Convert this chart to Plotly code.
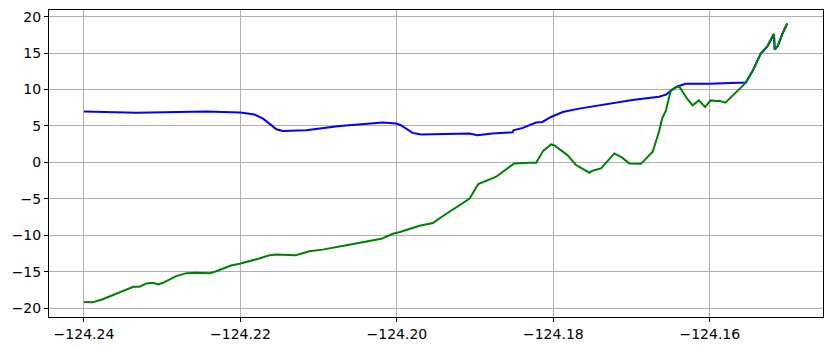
import plotly.graph_objects as go

blue_lon = [-124.2400, -124.2333, -124.2244, -124.2200, -124.2182, -124.2171, -124.2154,
            -124.2146, -124.2116, -124.2073, -124.2018, -124.2001, -124.1995, -124.1980,
            -124.1969, -124.1907, -124.1897, -124.1878, -124.1856, -124.1852, -124.1851,
            -124.1839, -124.1822, -124.1814, -124.1803, -124.1788, -124.1767, -124.1712,
            -124.1699, -124.1665, -124.1656, -124.1643, -124.1631, -124.1601, -124.1556,
            -124.1554, -124.1545, -124.1535, -124.1526, -124.1519, -124.1518, -124.1517,
            -124.1513, -124.1507, -124.1501]
blue_val = [7.0, 6.8, 6.97, 6.85, 6.56, 6.0, 4.55,
            4.32, 4.41, 5.0, 5.46, 5.33, 5.1, 4.05,
            3.82, 3.96, 3.73, 3.96, 4.1, 4.12, 4.41,
            4.73, 5.46, 5.55, 6.23, 6.91, 7.38, 8.4,
            8.55, 9.0, 9.3, 10.35, 10.8, 10.8, 10.85,
            10.95, 12.6, 14.89, 16.0, 17.53, 17.6, 15.48,
            16.0, 17.7, 19.07]

green_lon = [-124.2400, -124.2389, -124.2376, -124.2346, -124.2337, -124.2329, -124.2320,
             -124.2312, -124.2305, -124.2299, -124.2282, -124.2269, -124.2256, -124.2239,
             -124.2231, -124.2212, -124.2201, -124.2176, -124.2163, -124.2154, -124.2129,
             -124.2112, -124.2095, -124.2061, -124.2035, -124.2020, -124.2005, -124.1997,
             -124.1971, -124.1954, -124.1942, -124.1924, -124.1907, -124.1903, -124.1896,
             -124.1873, -124.1854, -124.1850, -124.1831, -124.1822, -124.1813, -124.1803,
             -124.1799, -124.1782, -124.1771, -124.1754, -124.1750, -124.1739, -124.1722,
             -124.1712, -124.1703, -124.1697, -124.1688, -124.1673, -124.1665, -124.1661,
             -124.1656, -124.1650, -124.1641, -124.1638, -124.1629, -124.1622, -124.1614,
             -124.1606, -124.1599, -124.1592, -124.1588, -124.1580, -124.1567, -124.1560,
             -124.1554, -124.1545, -124.1535, -124.1526, -124.1519, -124.1518, -124.1517,
             -124.1513, -124.1507, -124.1501]
green_val = [-19.18, -19.22, -18.8, -17.54, -17.08, -17.08, -16.62,
             -16.53, -16.76, -16.53, -15.62, -15.21, -15.16, -15.21,
             -14.94, -14.16, -13.93, -13.2, -12.76, -12.66, -12.76,
             -12.2, -11.98, -11.3, -10.8, -10.5, -9.8, -9.6,
             -8.7, -8.33, -7.43, -6.2, -4.97, -4.24, -2.97,
             -1.97, -0.37, -0.14, -0.05, -0.05, 1.58, 2.46,
             2.36, 1.0, -0.37, -1.42, -1.15, -0.82, 1.23,
             0.65, -0.14, -0.14, -0.2, 1.45, 4.2, 6.0,
             7.14, 9.88, 10.42, 10.25, 8.74, 7.83, 8.51,
             7.6, 8.51, 8.42, 8.47, 8.2, 9.65, 10.3,
             10.95, 12.6, 14.89, 16.0, 17.53, 17.6, 15.48,
             16.0, 17.7, 19.07]

x_ticks = [-124.24, -124.22, -124.20, -124.18, -124.16]
x_labels = ["\u2212124.24", "\u2212124.22", "\u2212124.20", "\u2212124.18", "\u2212124.16"]
y_ticks = [-20, -15, -10, -5, 0, 5, 10, 15, 20]
y_labels = ["\u221220", "\u221215", "\u221210", "\u22125", "0", "5", "10", "15", "20"]

fig = go.Figure()
fig.add_trace(go.Scatter(x=blue_lon, y=blue_val, mode="lines",
                         line=dict(color="#0000ff", width=2), showlegend=False))
fig.add_trace(go.Scatter(x=green_lon, y=green_val, mode="lines",
                         line=dict(color="#008000", width=2), showlegend=False))

axis_common = dict(showline=True, mirror=True, linecolor="black", linewidth=1,
                   showgrid=True, gridcolor="#b0b0b0", gridwidth=1, zeroline=False,
                   ticks="outside", ticklen=4, tickwidth=1, tickcolor="black",
                   tickfont=dict(family="DejaVu Sans", size=14, color="black"))

fig.update_xaxes(range=[-124.24447, -124.14553], tickvals=x_ticks, ticktext=x_labels,
                 **axis_common)
fig.update_yaxes(range=[-21.23, 20.92], tickvals=y_ticks, ticktext=y_labels,
                 **axis_common)

fig.update_layout(width=833, height=351,
                  margin=dict(l=49, r=9, t=9, b=33),
                  paper_bgcolor="white", plot_bgcolor="white",
                  font=dict(family="DejaVu Sans", size=14, color="black"))

fig.write_html("out.html")
